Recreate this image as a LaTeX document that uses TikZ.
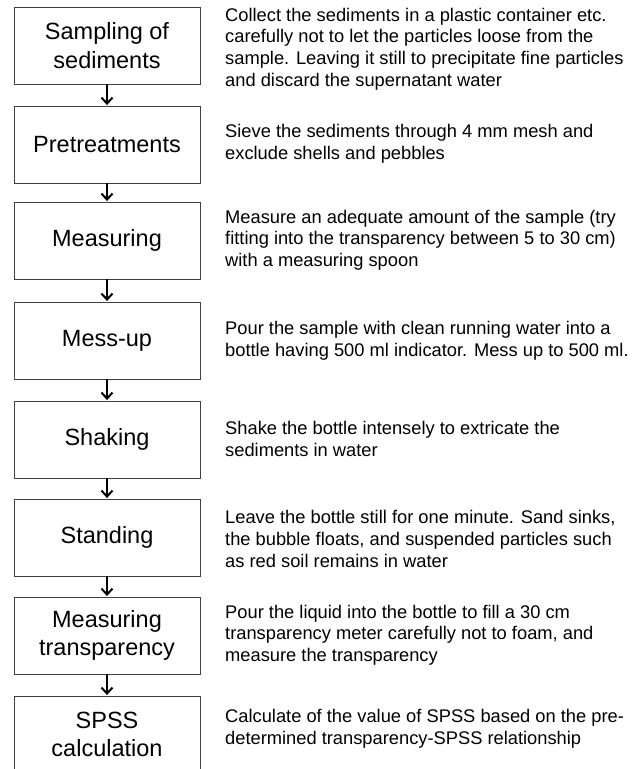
\documentclass[tikz,border=0pt]{standalone}
\usepackage{fontspec}
\setmainfont{Liberation Sans}
\usetikzlibrary{arrows.meta}
\tikzset{
  stepbox/.style={draw=black!75, line width=0.9pt, minimum width=186pt, minimum height=77pt,
    inner sep=0pt, align=center, font=\fontsize{23.5}{28.5}\selectfont},
  desc/.style={anchor=west, align=left, inner sep=0pt, font=\fontsize{18.3}{21.6}\selectfont},
  flow/.style={line width=2pt, -{Straight Barb[length=6pt,width=11pt,line width=2pt]}, shorten >=0.5pt}
}
\begin{document}
\begin{tikzpicture}[x=1pt,y=1pt]
\useasboundingbox (0,0) rectangle (640,-769);
\clip (0,0) rectangle (640,-769);
\node[stepbox] (b1) at (107,-45.5) {Sampling of\\sediments};
\node[stepbox] (b2) at (107,-144.5) {Pretreatments};
\node[stepbox] (b3) at (107,-240.5) {Measuring};
\node[stepbox] (b4) at (107,-340.5) {Mess-up};
\node[stepbox] (b5) at (107,-439.5) {Shaking};
\node[stepbox] (b6) at (107,-537.5) {Standing};
\node[stepbox] (b7) at (107,-635.5) {Measuring\\transparency};
\node[stepbox] (b8) at (107,-734.5) {SPSS\\calculation};
\foreach \a/\b in {b1/b2,b2/b3,b3/b4,b4/b5,b5/b6,b6/b7,b7/b8}
  \draw[flow] (\a.south) -- (\b.north);
\node[desc] (t1) at (225,-49) {Collect the sediments in a plastic container etc.\\carefully not to let the particles loose from the\\sample. Leaving it still to precipitate fine particles\\and discard the supernatant water};
\node[desc] (t2) at (225,-144) {Sieve the sediments through 4 mm mesh and\\exclude shells and pebbles};
\node[desc] (t3) at (225,-240) {Measure an adequate amount of the sample (try\\fitting into the transparency between 5 to 30 cm)\\with a measuring spoon};
\node[desc] (t4) at (225,-341) {Pour the sample with clean running water into a\\bottle having 500 ml indicator. Mess up to 500 ml.};
\node[desc] (t5) at (225,-439) {Shake the bottle intensely to extricate the\\sediments in water};
\node[desc] (t6) at (225,-539) {Leave the bottle still for one minute. Sand sinks,\\the bubble floats, and suspended particles such\\as red soil remains in water};
\node[desc] (t7) at (225,-635) {Pour the liquid into the bottle to fill a 30 cm\\transparency meter carefully not to foam, and\\measure the transparency};
\node[desc] (t8) at (225,-729) {Calculate of the value of SPSS based on the pre-\\determined transparency-SPSS relationship};
\end{tikzpicture}
\end{document}
